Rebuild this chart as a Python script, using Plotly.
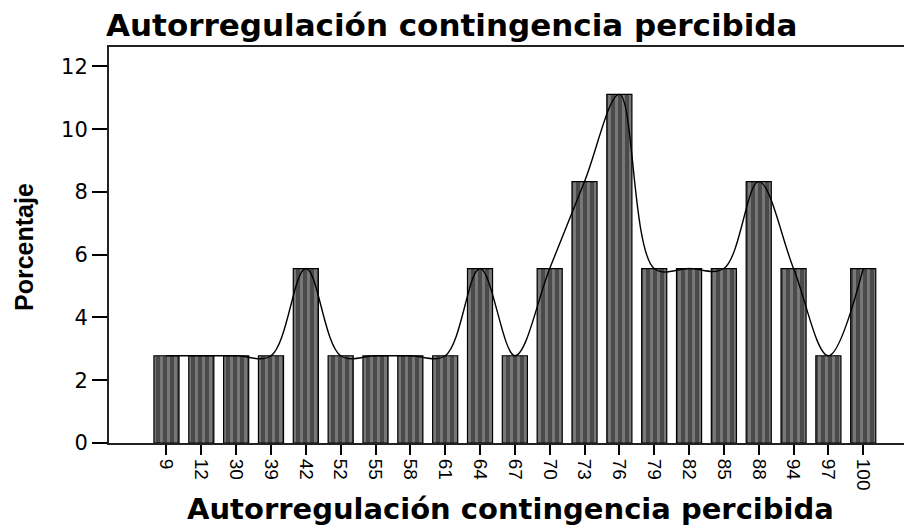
import plotly.graph_objects as go

# puntuaciones observadas y porcentaje de casos (n = 36)
categorias = ["9", "12", "30", "39", "42", "52", "55", "58", "61", "64", "67",
              "70", "73", "76", "79", "82", "85", "88", "94", "97", "100"]
porcentaje = [2.78, 2.78, 2.78, 2.78, 5.56, 2.78, 2.78, 2.78, 2.78, 5.56, 2.78,
              5.56, 8.33, 11.11, 5.56, 5.56, 5.56, 8.33, 5.56, 2.78, 5.56]
y_ticks = [0, 2, 4, 6, 8, 10, 12]

titulo = "Autorregulación contingencia percibida"

# la página añade 8 px de margen al body: figura de 904x519
W, H = 904, 519

fig = go.Figure()
fig.add_trace(go.Bar(
    x=categorias, y=porcentaje, width=0.72,
    marker=dict(
        color="#4c4c4c",
        line=dict(color="black", width=1.2),
        pattern=dict(shape="|", bgcolor="#4a4a4a", fgcolor="#a6a6a6",
                     size=7, solidity=0.42, fillmode="overlay"),
    ),
    showlegend=False,
))
fig.add_trace(go.Scatter(
    x=categorias, y=porcentaje, mode="lines",
    line=dict(color="black", width=1.4, shape="spline", smoothing=1.0),
    showlegend=False,
))

fig.update_layout(
    width=W, height=H,
    margin=dict(l=101, r=0, t=39, b=84),
    paper_bgcolor="white", plot_bgcolor="white",
    font=dict(family="DejaVu Sans, Liberation Sans, sans-serif", color="black"),
    title=dict(text="<b>" + titulo + "</b>", x=98 / W, xanchor="left",
               y=1 - 17 / H, yanchor="middle",
               font=dict(size=31, family="DejaVu Sans")),
)
fig.update_xaxes(
    type="category", range=[-1.65, 21.4], automargin=False,
    showline=True, linecolor="#222222", linewidth=2, mirror=True,
    ticks="outside", ticklen=10, tickwidth=1.5, tickcolor="black",
    tickangle=90, tickfont=dict(size=19, family="Liberation Sans"),
    showgrid=False,
)
fig.update_yaxes(
    range=[0, 12.62], tickvals=y_ticks, automargin=False,
    showline=True, linecolor="#222222", linewidth=2,
    ticks="outside", ticklen=15, tickwidth=1.5, tickcolor="black",
    tickfont=dict(size=21, family="DejaVu Sans"), showgrid=False, zeroline=False,
)

# títulos de ejes
fig.add_annotation(text="<b>" + titulo + "</b>", xref="paper", yref="paper",
                   x=0.5, y=-(509 - 443) / 396, xanchor="center", yanchor="middle",
                   showarrow=False, font=dict(size=29, family="DejaVu Sans"))
fig.add_annotation(text="<b>Porcentaje</b>", xref="paper", yref="paper",
                   x=-(109 - 24) / 803, y=(443 - 247) / 396, xanchor="center",
                   yanchor="middle", textangle=-90, showarrow=False,
                   font=dict(size=25, family="Liberation Sans"))

fig.write_html("out.html")
